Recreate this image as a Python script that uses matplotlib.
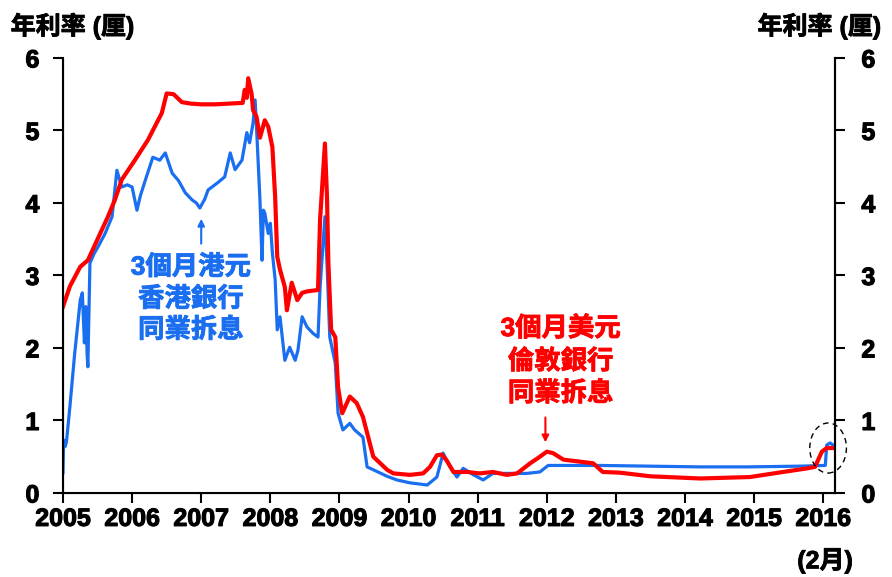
import matplotlib
matplotlib.use("Agg")
import matplotlib.pyplot as plt
import matplotlib.patheffects as pe
from matplotlib.patches import Ellipse

# 3個月港元香港銀行同業拆息 (HIBOR)
hibor_t = [2005.0, 2005.01, 2005.03, 2005.05, 2005.1, 2005.17, 2005.25, 2005.28,
           2005.31, 2005.33, 2005.35, 2005.36, 2005.39, 2005.45, 2005.51, 2005.61,
           2005.71, 2005.78, 2005.85, 2005.93, 2006.0, 2006.07, 2006.12, 2006.19,
           2006.3, 2006.4, 2006.48, 2006.58, 2006.67, 2006.77, 2006.87, 2006.93,
           2006.98, 2007.05, 2007.1, 2007.24, 2007.34, 2007.42, 2007.49, 2007.59,
           2007.66, 2007.7, 2007.75, 2007.78, 2007.8, 2007.85, 2007.88, 2007.9,
           2007.92, 2007.97, 2008.0, 2008.03, 2008.07, 2008.1, 2008.14, 2008.21,
           2008.28, 2008.36, 2008.4, 2008.46, 2008.53, 2008.62, 2008.69, 2008.72,
           2008.79, 2008.82, 2008.86, 2008.94, 2008.98, 2009.05, 2009.15, 2009.22,
           2009.34, 2009.4, 2009.49, 2009.69, 2009.83, 2010.02, 2010.27, 2010.41,
           2010.5, 2010.6, 2010.7, 2010.79, 2010.94, 2011.08, 2011.22, 2011.42,
           2011.71, 2011.9, 2012.02, 2012.29, 2012.77, 2013.49, 2014.22, 2014.9,
           2015.66, 2016.03, 2016.05, 2016.1, 2016.17]
hibor_v = [0.28, 0.73, 0.64, 0.7, 1.19, 1.93, 2.66, 2.76,
           2.07, 2.57, 1.9, 1.74, 3.17, 3.3, 3.4, 3.58,
           3.81, 4.45, 4.22, 4.25, 4.22, 3.9, 4.1, 4.31,
           4.63, 4.59, 4.69, 4.41, 4.31, 4.14, 4.04, 4.0,
           3.93, 4.05, 4.18, 4.28, 4.36, 4.69, 4.46, 4.59,
           4.97, 4.83, 5.1, 5.42, 5.05, 4.04, 3.21, 3.9,
           3.86, 3.58, 3.72, 3.31, 2.94, 2.25, 2.43, 1.83,
           2.01, 1.83, 1.97, 2.43, 2.29, 2.2, 2.15, 2.84,
           3.81, 3.17, 2.15, 1.79, 1.1, 0.87, 0.96, 0.87,
           0.77, 0.36, 0.32, 0.23, 0.18, 0.14, 0.11, 0.22,
           0.55, 0.36, 0.22, 0.34, 0.25, 0.18, 0.27, 0.27,
           0.27, 0.29, 0.38, 0.38, 0.38, 0.37, 0.36, 0.36,
           0.37, 0.38, 0.66, 0.69, 0.64]

# 3個月美元倫敦銀行同業拆息 (LIBOR)
libor_t = [2005.0, 2005.1, 2005.25, 2005.36, 2005.5, 2005.65, 2005.75, 2005.85,
           2006.04, 2006.23, 2006.43, 2006.5, 2006.6, 2006.72, 2006.85, 2007.0,
           2007.2, 2007.4, 2007.6, 2007.63, 2007.66, 2007.68, 2007.73, 2007.75,
           2007.8, 2007.85, 2007.92, 2007.97, 2008.03, 2008.07, 2008.1, 2008.14,
           2008.21, 2008.24, 2008.31, 2008.39, 2008.46, 2008.53, 2008.69, 2008.72,
           2008.79, 2008.82, 2008.84, 2008.88, 2008.94, 2008.98, 2009.04, 2009.15,
           2009.25, 2009.34, 2009.4, 2009.49, 2009.69, 2009.78, 2010.02, 2010.21,
           2010.31, 2010.41, 2010.48, 2010.55, 2010.65, 2010.85, 2011.03, 2011.22,
           2011.42, 2011.57, 2011.76, 2011.9, 2012.0, 2012.09, 2012.24, 2012.67,
           2012.81, 2013.06, 2013.5, 2014.22, 2014.94, 2015.42, 2015.77, 2015.88,
           2015.98, 2016.05, 2016.17]
libor_v = [2.57, 2.85, 3.12, 3.21, 3.5, 3.81, 4.04, 4.32,
           4.59, 4.87, 5.24, 5.51, 5.5, 5.39, 5.37, 5.36,
           5.36, 5.37, 5.38, 5.56, 5.45, 5.72, 5.5, 5.28,
           5.19, 4.9, 5.14, 5.05, 4.77, 4.08, 3.26, 3.08,
           2.84, 2.52, 2.9, 2.66, 2.76, 2.78, 2.8, 3.77,
           4.82, 4.08, 3.17, 2.25, 2.15, 1.46, 1.1, 1.33,
           1.24, 1.05, 0.83, 0.5, 0.32, 0.27, 0.25, 0.27,
           0.36, 0.52, 0.53, 0.45, 0.29, 0.29, 0.27, 0.29,
           0.25, 0.27, 0.41, 0.5, 0.57, 0.55, 0.46, 0.41,
           0.29, 0.28, 0.23, 0.2, 0.22, 0.29, 0.34, 0.36,
           0.57, 0.62, 0.62]

years = list(range(2005, 2017))
yticks = [0, 1, 2, 3, 4, 5, 6]

BLUE = "#1a6ef0"
RED = "#ff0000"
plt.rcParams["font.family"] = ["Liberation Sans", "Noto Sans CJK TC"]
plt.rcParams["font.weight"] = "bold"


def heavy(color="black", w=0.6):
    # the CJK family has no bold face here, so thicken the strokes a little
    return [pe.withStroke(linewidth=w, foreground=color)]


fig = plt.figure(figsize=(8.92, 5.77), dpi=100)
ax = fig.add_axes([0.0706, 0.1456, 0.8655, 0.754])
ax.plot(hibor_t, hibor_v, color=BLUE, lw=2.3, zorder=2)
ax.plot(libor_t, libor_v, color=RED, lw=3.0, zorder=3)

ax.set_xlim(2005, 2016.17)
ax.set_ylim(0, 6)
ax.set_xticks(years)
ax.set_xticklabels([str(y) for y in years], fontsize=18, fontweight="bold")
ax.set_yticks(yticks)
ax.set_yticklabels([str(v) for v in yticks], fontsize=18, fontweight="bold")
ax.spines["top"].set_visible(False)
for s in ["left", "bottom", "right"]:
    ax.spines[s].set_linewidth(1.5)
ax.tick_params(axis="x", direction="out", length=7, width=1.5, pad=3)
ax.tick_params(axis="y", direction="out", length=7, width=1.5, pad=10)

ax2 = ax.twinx()
ax2.set_ylim(0, 6)
ax2.set_yticks(yticks)
ax2.set_yticklabels([str(v) for v in yticks], fontsize=18, fontweight="bold")
ax2.spines["top"].set_visible(False)
ax2.spines["right"].set_linewidth(1.5)
ax2.tick_params(axis="y", direction="out", length=7, width=1.5, pad=12)

for lab in ax.get_xticklabels() + ax.get_yticklabels() + ax2.get_yticklabels():
    lab.set_path_effects(heavy(w=0.8))

fig.text(0.012, 0.955, "年利率 (厘)", fontsize=18, fontweight="bold", va="center",
         path_effects=heavy())
fig.text(0.988, 0.955, "年利率 (厘)", fontsize=18, fontweight="bold", va="center",
         ha="right", path_effects=heavy())
fig.text(0.925, 0.028, "(2月)", fontsize=18, fontweight="bold", va="center",
         ha="center", path_effects=heavy())

# annotations
ax.annotate("", xy=(2007.0, 3.82), xytext=(2007.0, 3.4),
            arrowprops=dict(arrowstyle="-|>", color=BLUE, lw=1.5, mutation_scale=10))
ax.text(2006.85, 2.68, "3個月港元\n香港銀行\n同業拆息", color=BLUE, fontsize=19,
        fontweight="bold", ha="center", va="center", linespacing=1.3,
        path_effects=heavy(BLUE))

ax.annotate("", xy=(2011.98, 0.66), xytext=(2011.98, 1.08),
            arrowprops=dict(arrowstyle="-|>", color=RED, lw=1.5, mutation_scale=10))
ax.text(2012.2, 1.82, "3個月美元\n倫敦銀行\n同業拆息", color=RED, fontsize=19,
        fontweight="bold", ha="center", va="center", linespacing=1.35,
        path_effects=heavy(RED))

ax.add_patch(Ellipse((2016.07, 0.62), 0.53, 0.69, fill=False, ls=(0, (4, 3)),
                     lw=1.0, color="black", zorder=4, clip_on=False))

fig.savefig("out.png", dpi=100)
